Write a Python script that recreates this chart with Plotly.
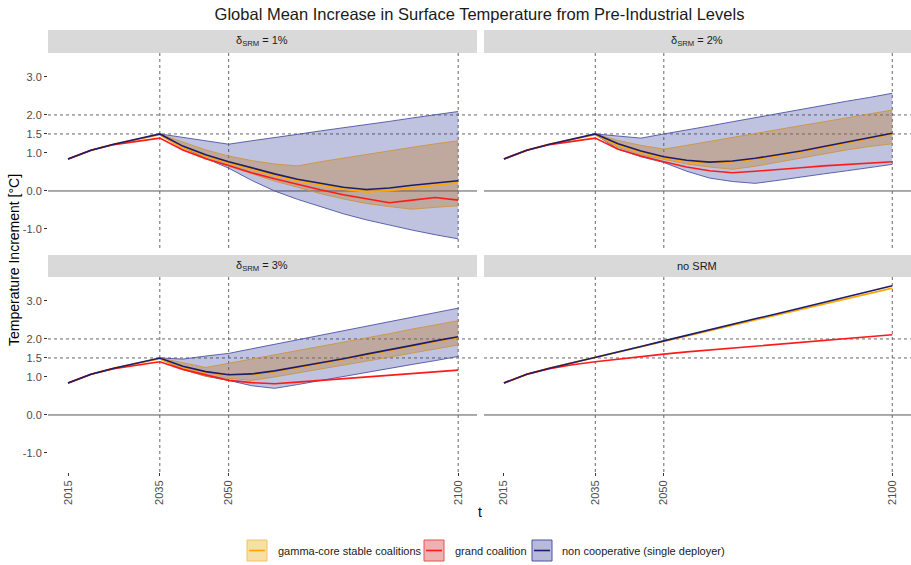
import plotly.graph_objects as go

# ---------------- data ----------------
years = [2015, 2020, 2025, 2030, 2035, 2040, 2045, 2050, 2055, 2060,
         2065, 2070, 2075, 2080, 2085, 2090, 2095, 2100]
years_post = [2035, 2040, 2045, 2050, 2055, 2060, 2065, 2070, 2075,
              2080, 2085, 2090, 2095, 2100]
panel_titles = ["δ<sub>SRM</sub> = 1%", "δ<sub>SRM</sub> = 2%",
                "δ<sub>SRM</sub> = 3%", "no SRM"]
x_ticks = [2015, 2035, 2050, 2100]
y_ticks = [-1.0, 0.0, 1.0, 1.5, 2.0, 3.0]
y_tick_labels = ["-1.0", "0.0", "1.0", "1.5", "2.0", "3.0"]
series_names = ["gamma-core stable coalitions", "grand coalition",
                "non cooperative (single deployer)"]

# delta_SRM = 1%
noncoop_1 = [0.84, 1.07, 1.23, 1.36, 1.50, 1.18, 0.95, 0.77, 0.60, 0.45,
             0.31, 0.20, 0.10, 0.04, 0.08, 0.15, 0.21, 0.27]
gamma_1 = [0.84, 1.07, 1.23, 1.36, 1.48, 1.15, 0.92, 0.74, 0.57, 0.41,
           0.27, 0.15, 0.05, -0.02, 0.01, 0.08, 0.15, 0.22]
grand_1 = [0.84, 1.07, 1.22, 1.31, 1.39, 1.08, 0.85, 0.67, 0.48, 0.32,
           0.17, 0.03, -0.10, -0.20, -0.31, -0.24, -0.17, -0.24]
gamma_lo_1 = [1.47, 1.10, 0.85, 0.66, 0.45, 0.26, 0.10, -0.07, -0.21,
              -0.33, -0.41, -0.48, -0.43, -0.39]
gamma_hi_1 = [1.50, 1.28, 1.08, 0.92, 0.80, 0.71, 0.66, 0.77, 0.87,
              0.97, 1.06, 1.15, 1.24, 1.32]
nc_lo_1 = [1.48, 1.15, 0.86, 0.60, 0.28, 0.00, -0.22, -0.42, -0.60,
           -0.76, -0.90, -1.03, -1.15, -1.26]
nc_hi_1 = [1.50, 1.41, 1.32, 1.23, 1.32, 1.40, 1.49, 1.58, 1.66,
           1.75, 1.83, 1.92, 2.00, 2.09]

# delta_SRM = 2%
noncoop_2 = [0.84, 1.07, 1.23, 1.36, 1.50, 1.24, 1.05, 0.90, 0.81, 0.76,
             0.79, 0.86, 0.95, 1.05, 1.17, 1.29, 1.40, 1.52]
gamma_2 = [0.84, 1.07, 1.23, 1.36, 1.48, 1.21, 1.02, 0.87, 0.78, 0.74,
           0.77, 0.84, 0.93, 1.03, 1.15, 1.27, 1.38, 1.50]
grand_2 = [0.84, 1.07, 1.22, 1.31, 1.39, 1.10, 0.92, 0.77, 0.63, 0.53,
           0.48, 0.52, 0.56, 0.61, 0.66, 0.70, 0.74, 0.77]
gamma_lo_2 = [1.47, 1.15, 0.95, 0.82, 0.71, 0.63, 0.57, 0.65, 0.76,
              0.87, 0.98, 1.08, 1.17, 1.24]
gamma_hi_2 = [1.50, 1.33, 1.20, 1.10, 1.20, 1.30, 1.41, 1.51, 1.61,
              1.72, 1.82, 1.92, 2.03, 2.13]
nc_lo_2 = [1.48, 1.10, 0.90, 0.75, 0.52, 0.34, 0.25, 0.20, 0.28,
           0.37, 0.45, 0.53, 0.62, 0.70]
nc_hi_2 = [1.50, 1.44, 1.39, 1.50, 1.60, 1.71, 1.82, 1.93, 2.03,
           2.14, 2.25, 2.36, 2.46, 2.57]

# delta_SRM = 3%
noncoop_3 = [0.84, 1.07, 1.23, 1.36, 1.50, 1.28, 1.14, 1.06, 1.08, 1.16,
             1.26, 1.37, 1.48, 1.60, 1.71, 1.83, 1.95, 2.06]
gamma_3 = [0.84, 1.07, 1.23, 1.36, 1.48, 1.26, 1.12, 1.04, 1.06, 1.14,
           1.24, 1.35, 1.46, 1.58, 1.69, 1.81, 1.93, 2.04]
grand_3 = [0.84, 1.07, 1.22, 1.31, 1.40, 1.20, 1.05, 0.91, 0.85, 0.82,
           0.865, 0.91, 0.955, 1.00, 1.045, 1.09, 1.135, 1.18]
gamma_lo_3 = [1.47, 1.20, 1.02, 0.97, 0.91, 1.00, 1.10, 1.21, 1.31,
              1.42, 1.52, 1.63, 1.73, 1.84]
gamma_hi_3 = [1.50, 1.38, 1.25, 1.36, 1.47, 1.58, 1.70, 1.81, 1.92,
              2.03, 2.14, 2.26, 2.37, 2.48]
nc_lo_3 = [1.48, 1.20, 1.02, 0.91, 0.77, 0.70, 0.80, 0.91, 1.01,
           1.12, 1.22, 1.33, 1.43, 1.54]
nc_hi_3 = [1.50, 1.47, 1.55, 1.62, 1.74, 1.86, 1.98, 2.10, 2.22,
           2.34, 2.45, 2.57, 2.69, 2.81]

# no SRM
noncoop_4 = [0.84, 1.07, 1.23, 1.37, 1.50, 1.65, 1.80, 1.95, 2.09, 2.24,
             2.38, 2.53, 2.67, 2.82, 2.96, 3.11, 3.25, 3.40]
gamma_4 = [0.84, 1.07, 1.23, 1.37, 1.50, 1.65, 1.80, 1.94, 2.08, 2.22,
           2.36, 2.50, 2.64, 2.78, 2.92, 3.06, 3.20, 3.34]
grand_4 = [0.84, 1.07, 1.22, 1.32, 1.40, 1.47, 1.54, 1.60, 1.66, 1.71,
           1.76, 1.81, 1.86, 1.91, 1.96, 2.01, 2.06, 2.11]

panels = [
    dict(nc=noncoop_1, g=gamma_1, gr=grand_1, glo=gamma_lo_1, ghi=gamma_hi_1, nlo=nc_lo_1, nhi=nc_hi_1),
    dict(nc=noncoop_2, g=gamma_2, gr=grand_2, glo=gamma_lo_2, ghi=gamma_hi_2, nlo=nc_lo_2, nhi=nc_hi_2),
    dict(nc=noncoop_3, g=gamma_3, gr=grand_3, glo=gamma_lo_3, ghi=gamma_hi_3, nlo=nc_lo_3, nhi=nc_hi_3),
    dict(nc=noncoop_4, g=gamma_4, gr=grand_4),
]

# ---------------- styles ----------------
C_NAVY = "#1d1d6e"
C_RED = "#ff1a1a"
C_ORANGE = "#ffa500"
C_NC_EDGE = "#4c52a3"
C_G_EDGE = "#cc963c"
F_NC = "rgba(45,55,150,0.30)"
F_G = "rgba(190,120,40,0.35)"
FONT = "Liberation Sans, Arial, sans-serif"

XR = [2010.64, 2104.1]
YR = [-1.5, 3.63]
xdom = [[0, 0.4971], [0.5052, 1.0], [0, 0.4971], [0.5052, 1.0]]
ydom = [[0.5068, 0.9480], [0.5068, 0.9480], [0.0, 0.4412], [0.0, 0.4412]]
strip_y = [[0.9480, 1.0], [0.9480, 1.0], [0.4412, 0.4910], [0.4412, 0.4910]]

fig = go.Figure()
shapes = []
annotations = []

for i, p in enumerate(panels):
    n = i + 1
    xa = "x" if n == 1 else f"x{n}"
    ya = "y" if n == 1 else f"y{n}"
    common = dict(xaxis=xa, yaxis=ya, showlegend=False, hoverinfo="skip")
    if "nlo" in p:
        fig.add_trace(go.Scatter(x=years_post, y=p["nlo"], mode="lines",
                                 line=dict(color=C_NC_EDGE, width=0.9), **common))
        fig.add_trace(go.Scatter(x=years_post, y=p["nhi"], mode="lines", fill="tonexty",
                                 fillcolor=F_NC, line=dict(color=C_NC_EDGE, width=0.9), **common))
        fig.add_trace(go.Scatter(x=years_post, y=p["glo"], mode="lines",
                                 line=dict(color=C_G_EDGE, width=0.9), **common))
        fig.add_trace(go.Scatter(x=years_post, y=p["ghi"], mode="lines", fill="tonexty",
                                 fillcolor=F_G, line=dict(color=C_G_EDGE, width=0.9), **common))
    fig.add_trace(go.Scatter(x=years, y=p["g"], mode="lines",
                             line=dict(color=C_ORANGE, width=1.8), **common))
    fig.add_trace(go.Scatter(x=years, y=p["gr"], mode="lines",
                             line=dict(color=C_RED, width=1.6), **common))
    fig.add_trace(go.Scatter(x=years, y=p["nc"], mode="lines",
                             line=dict(color=C_NAVY, width=1.6), **common))

    bottom = n in (3, 4)
    left = n in (1, 3)
    xkey = "xaxis" if n == 1 else f"xaxis{n}"
    ykey = "yaxis" if n == 1 else f"yaxis{n}"
    fig.update_layout(**{
        xkey: dict(domain=xdom[i], range=XR, anchor=ya, showgrid=False, zeroline=False,
                   showline=False, tickvals=x_ticks, ticktext=[str(v) for v in x_ticks],
                   showticklabels=bottom, ticks="outside" if bottom else "",
                   ticklen=3, tickcolor="#333333", tickangle=-90,
                   tickfont=dict(size=11, color="#4d4d4d", family=FONT)),
        ykey: dict(domain=ydom[i], range=YR, anchor=xa, showgrid=False, zeroline=False,
                   showline=False, tickvals=y_ticks, ticktext=y_tick_labels,
                   showticklabels=left, ticks="outside" if left else "",
                   ticklen=3, tickcolor="#333333",
                   tickfont=dict(size=11, color="#4d4d4d", family=FONT)),
    })

    xd = "x domain" if n == 1 else f"x{n} domain"
    yd = "y domain" if n == 1 else f"y{n} domain"
    shapes.append(dict(type="line", xref=xd, x0=0, x1=1, yref=ya, y0=0, y1=0,
                       line=dict(color="#555555", width=1), layer="below"))
    for hv in (1.5, 2.0):
        shapes.append(dict(type="line", xref=xd, x0=0, x1=1, yref=ya, y0=hv, y1=hv,
                           line=dict(color="#666666", width=1, dash="dot"), layer="below"))
    for vv in (2035, 2050, 2100):
        shapes.append(dict(type="line", xref=xa, x0=vv, x1=vv, yref=yd, y0=0, y1=1,
                           line=dict(color="#666666", width=1, dash="dot"), layer="below"))
    shapes.append(dict(type="rect", xref="paper", yref="paper",
                       x0=xdom[i][0], x1=xdom[i][1], y0=strip_y[i][0], y1=strip_y[i][1],
                       fillcolor="#d9d9d9", line=dict(width=0), layer="below"))
    annotations.append(dict(xref="paper", yref="paper",
                            x=(xdom[i][0] + xdom[i][1]) / 2,
                            y=(strip_y[i][0] + strip_y[i][1]) / 2,
                            text=panel_titles[i], showarrow=False,
                            font=dict(size=11, color="#1a1a1a", family=FONT),
                            xanchor="center", yanchor="middle"))

annotations.append(dict(xref="paper", yref="paper", x=(480 - 48) / 863, y=(472 - 512) / 442,
                        text="t", showarrow=False, xanchor="center", yanchor="middle",
                        font=dict(size=14, color="#000000", family=FONT)))
annotations.append(dict(xref="paper", yref="paper", x=(14 - 48) / 863, y=(472 - 260) / 442,
                        text="Temperature Increment [°C]", showarrow=False, textangle=-90,
                        xanchor="center", yanchor="middle",
                        font=dict(size=14, color="#000000", family=FONT)))

leg = [
    (247, 276, series_names[0], C_ORANGE, "rgba(247,223,168,1)", "#f7c060"),
    (424, 453, series_names[1], C_RED, "rgba(239,178,178,1)", "#e85050"),
    (532, 560, series_names[2], C_NAVY, "rgba(183,186,216,1)", C_NC_EDGE),
]
def px_x(px):
    return (px - 48) / 863
def px_y(py):
    return (472 - py) / 442
for kx, tx, name, lc, fc, ec in leg:
    shapes.append(dict(type="rect", xref="paper", yref="paper",
                       x0=px_x(kx), x1=px_x(kx + 20), y0=px_y(561), y1=px_y(540),
                       fillcolor=fc, line=dict(color=ec, width=1)))
    shapes.append(dict(type="line", xref="paper", yref="paper",
                       x0=px_x(kx + 2), x1=px_x(kx + 18), y0=px_y(550.5), y1=px_y(550.5),
                       line=dict(color=lc, width=1.6)))
    annotations.append(dict(xref="paper", yref="paper", x=px_x(tx), y=px_y(550.5),
                            text=name, showarrow=False, xanchor="left", yanchor="middle",
                            font=dict(size=11, color="#1a1a1a", family=FONT)))

fig.update_layout(
    width=911, height=565,
    margin=dict(l=48, r=0, t=30, b=93),
    paper_bgcolor="white", plot_bgcolor="white",
    showlegend=False,
    shapes=shapes, annotations=annotations,
    title=dict(text="Global Mean Increase in Surface Temperature from Pre-Industrial Levels",
               x=0.5, xref="paper", xanchor="center",
               y=1 - 14 / 565, yref="container", yanchor="middle",
               font=dict(size=16.5, color="#1a1a1a", family=FONT)),
)

fig.write_html("out.html")
